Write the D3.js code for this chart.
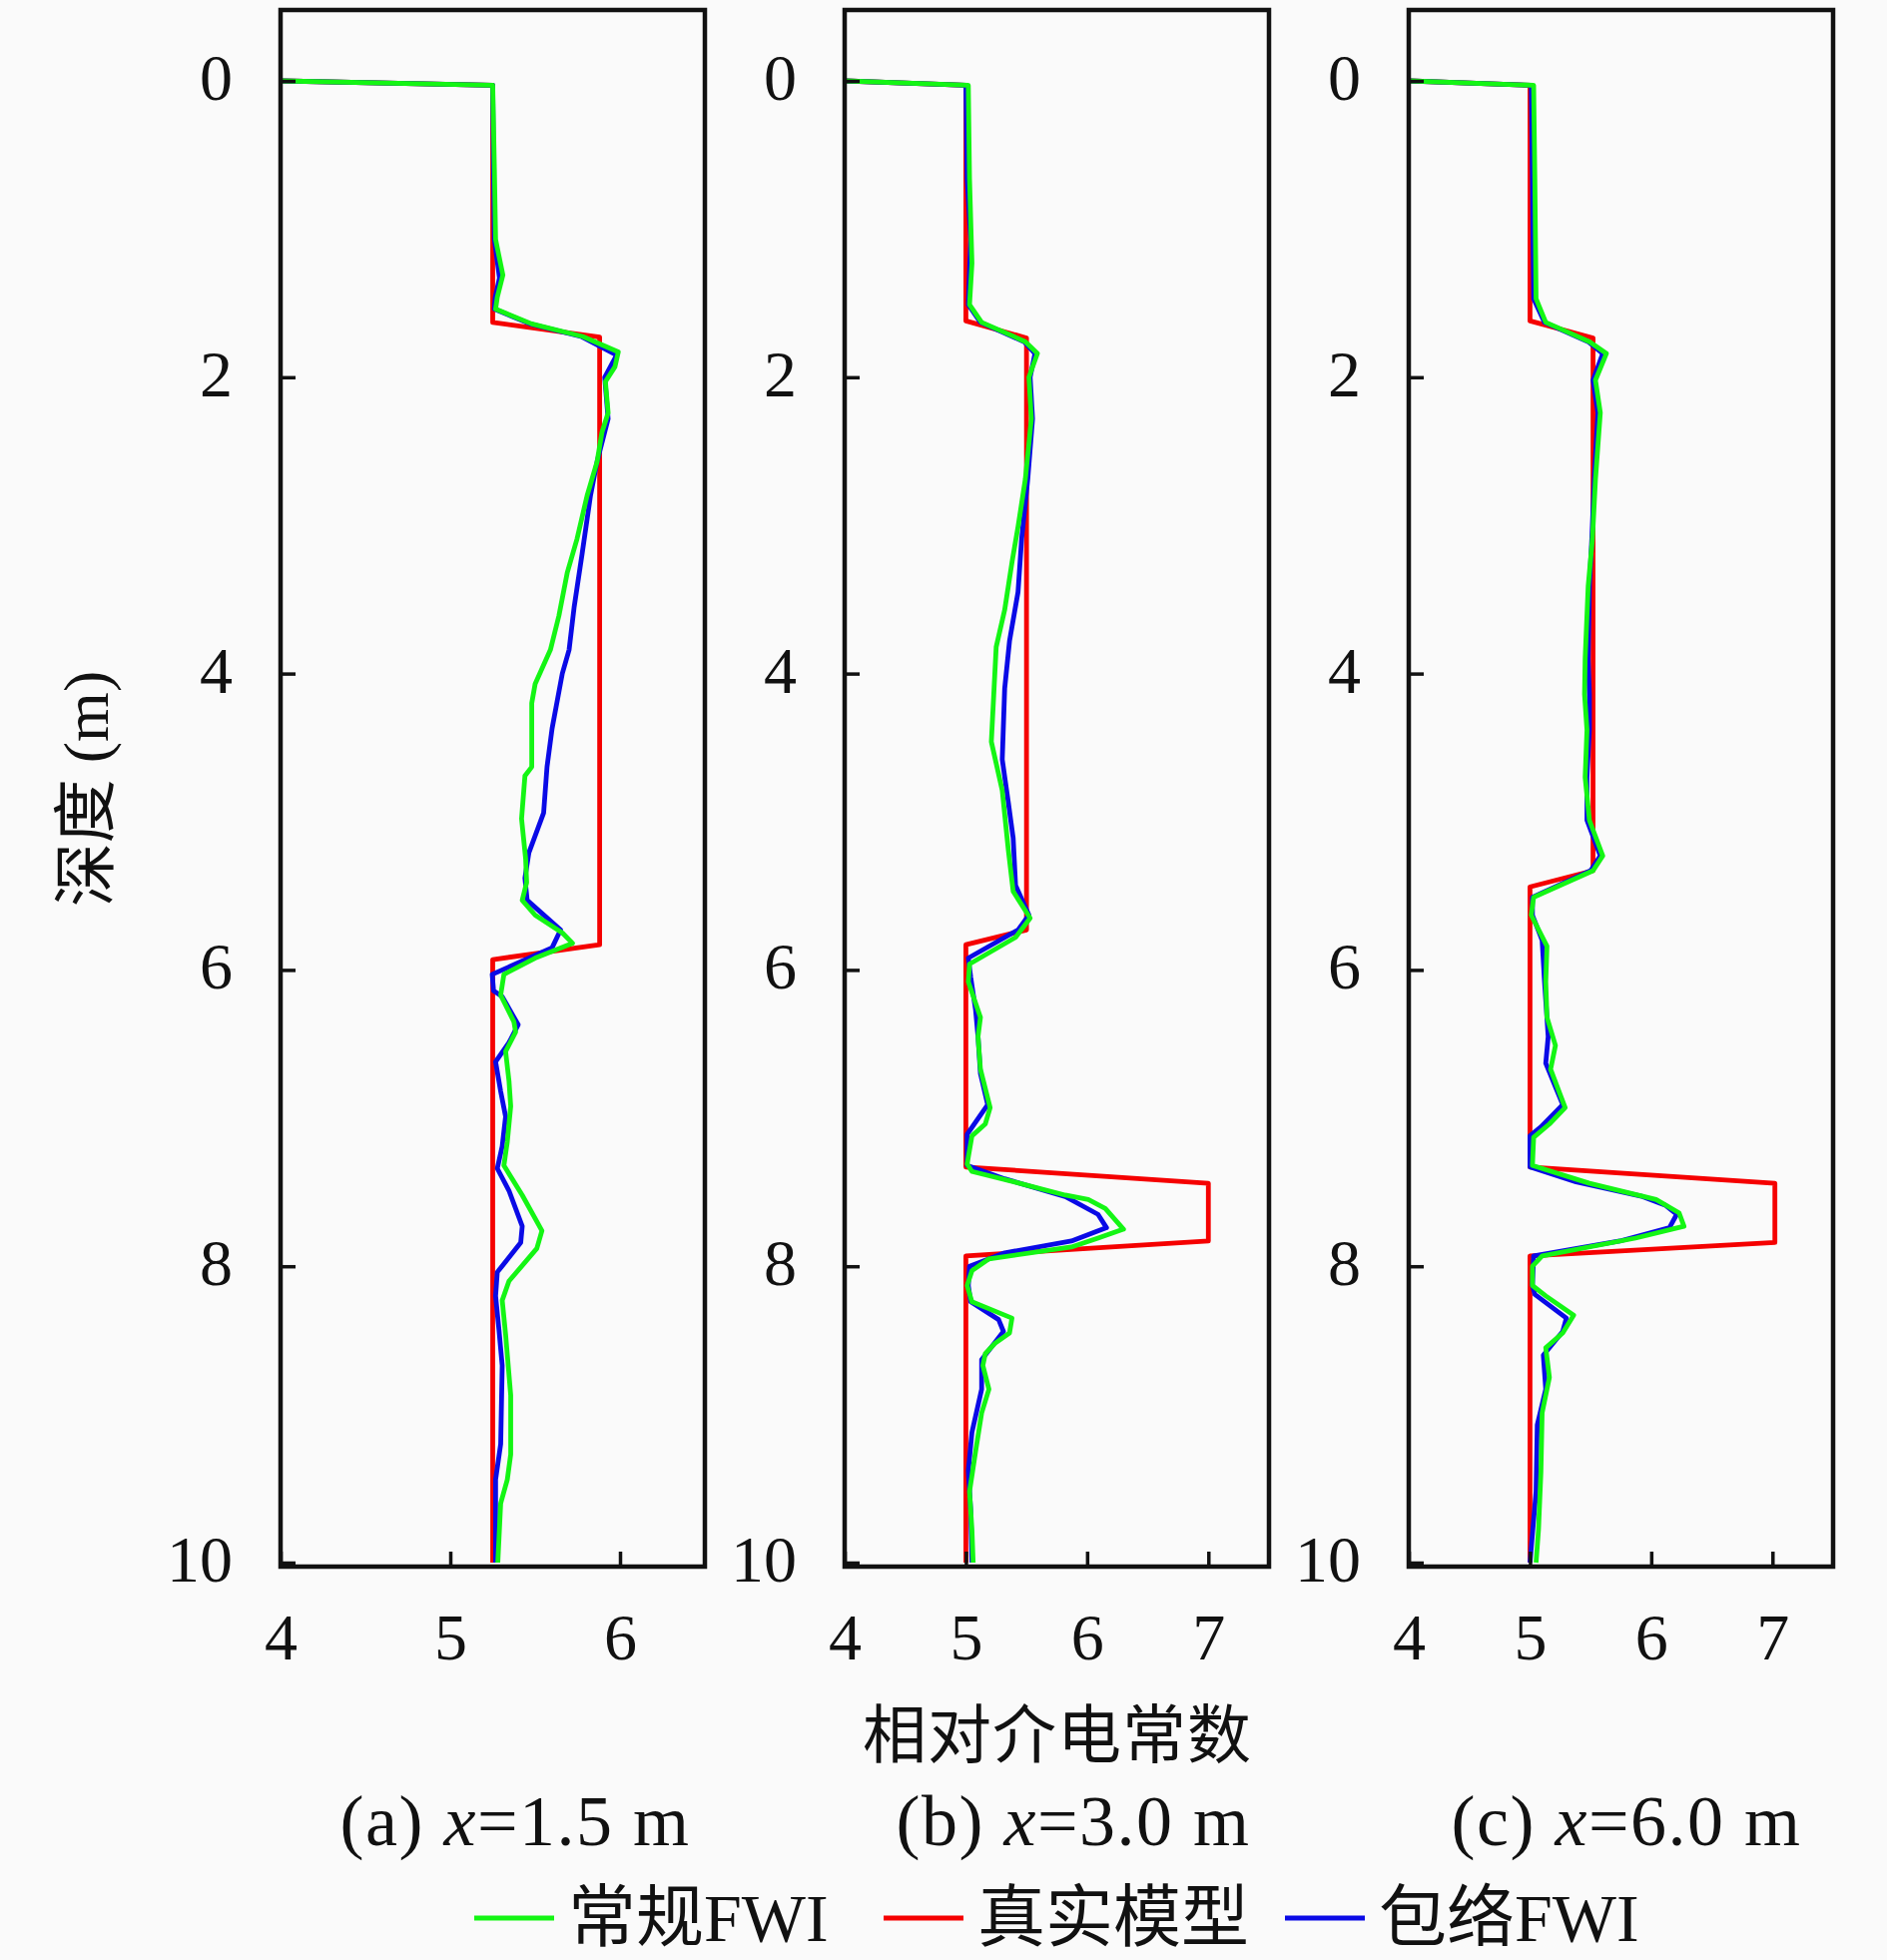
<!DOCTYPE html>
<html lang="zh">
<head>
<meta charset="UTF-8">
<script src="https://d3js.org/d3.v7.min.js"></script>
<style>
    body { margin: 0; background: #fafafa; }
    svg { display: block; }
    .tick text { font-family: "Liberation Serif", serif; fill: #111; }
</style>
</head>
<body>
<div id="chart"></div>
<script>
// depth (m), relative permittivity
const trueA = [[0,4.0],[0.03,5.25],[1.63,5.25],[1.73,5.88],[5.83,5.88],[5.93,5.25],[10,5.25]];
const convA = [[0,4.0],[0.03,5.25],[0.6,5.26],[1.07,5.267],[1.2,5.29],[1.31,5.31],[1.46,5.277],[1.54,5.267],[1.64,5.48],[1.725,5.78],[1.83,5.99],[1.93,5.97],[2.03,5.914],[2.24,5.93],[2.37,5.894],[2.57,5.865],[2.8,5.806],[3.09,5.747],[3.32,5.689],[3.61,5.64],[3.84,5.59],[4.07,5.5],[4.2,5.48],[4.63,5.48],[4.69,5.44],[4.98,5.42],[5.25,5.444],[5.41,5.45],[5.53,5.424],[5.63,5.5],[5.75,5.66],[5.82,5.72],[5.92,5.5],[6.03,5.316],[6.17,5.297],[6.35,5.375],[6.42,5.385],[6.55,5.326],[6.75,5.346],[6.92,5.356],[7.16,5.336],[7.32,5.316],[7.52,5.424],[7.76,5.54],[7.88,5.51],[8.1,5.346],[8.23,5.306],[8.46,5.326],[8.87,5.356],[9.27,5.356],[9.44,5.336],[9.6,5.297],[10,5.28]];
const envA = [[0,4.0],[0.03,5.25],[0.6,5.255],[1.07,5.26],[1.2,5.275],[1.33,5.29],[1.46,5.265],[1.54,5.26],[1.64,5.47],[1.725,5.77],[1.85,5.98],[2.0,5.91],[2.28,5.93],[2.57,5.865],[2.8,5.826],[3.19,5.777],[3.55,5.73],[3.84,5.7],[4.0,5.66],[4.37,5.6],[4.63,5.57],[4.94,5.55],[5.21,5.463],[5.38,5.44],[5.53,5.453],[5.73,5.65],[5.85,5.6],[6.03,5.247],[6.14,5.255],[6.18,5.306],[6.37,5.4],[6.49,5.346],[6.62,5.267],[6.82,5.297],[6.99,5.326],[7.19,5.306],[7.34,5.277],[7.49,5.346],[7.73,5.424],[7.84,5.415],[8.04,5.277],[8.2,5.267],[8.43,5.287],[8.67,5.306],[9.2,5.297],[9.44,5.267],[10,5.267]];

const trueB = [[0,4.0],[0.03,5.0],[1.62,5.0],[1.735,5.5],[5.73,5.5],[5.83,5.0],[7.33,5.0],[7.44,7.0],[7.83,7.0],[7.93,5.0],[10,5.0]];
const convB = [[0,4.0],[0.03,5.02],[0.66,5.03],[1.23,5.05],[1.51,5.03],[1.63,5.13],[1.76,5.49],[1.84,5.59],[2.0,5.52],[2.28,5.54],[2.69,5.49],[3.01,5.43],[3.25,5.38],[3.57,5.32],[3.82,5.25],[4.14,5.23],[4.46,5.21],[4.79,5.3],[5.19,5.35],[5.47,5.39],[5.65,5.53],[5.78,5.41],[5.96,5.03],[6.08,5.02],[6.32,5.12],[6.45,5.1],[6.67,5.12],[6.93,5.2],[7.04,5.16],[7.12,5.05],[7.31,5.01],[7.36,5.05],[7.45,5.49],[7.52,5.82],[7.55,6.01],[7.61,6.15],[7.75,6.3],[7.81,6.09],[7.87,5.87],[7.95,5.19],[8.03,5.05],[8.13,5.01],[8.24,5.05],[8.35,5.38],[8.45,5.36],[8.52,5.24],[8.59,5.16],[8.67,5.14],[8.83,5.19],[8.99,5.13],[9.25,5.08],[9.52,5.03],[9.78,5.05],[10,5.06]];
const envB = [[0,4.0],[0.03,5.0],[0.66,5.01],[1.07,5.04],[1.51,5.02],[1.63,5.12],[1.76,5.48],[1.84,5.57],[2.0,5.53],[2.28,5.55],[2.69,5.51],[3.09,5.46],[3.45,5.43],[3.78,5.36],[4.1,5.32],[4.58,5.3],[4.87,5.35],[5.11,5.39],[5.43,5.41],[5.63,5.52],[5.73,5.43],[5.92,5.02],[6.05,5.04],[6.27,5.08],[6.45,5.1],[6.7,5.12],[6.91,5.18],[7.11,5.01],[7.32,5.01],[7.41,5.32],[7.53,5.82],[7.65,6.09],[7.74,6.16],[7.83,5.87],[7.91,5.32],[8.0,5.03],[8.13,5.02],[8.24,5.04],[8.36,5.27],[8.44,5.31],[8.63,5.13],[8.83,5.13],[9.12,5.05],[9.38,5.02],[9.65,5.04],[10,5.05]];

const trueC = [[0,4.0],[0.03,5.0],[1.62,5.0],[1.735,5.52],[5.33,5.52],[5.44,5.0],[7.33,5.0],[7.44,7.02],[7.84,7.02],[7.93,5.0],[10,5.0]];
const convC = [[0,4.0],[0.03,5.03],[0.66,5.04],[1.47,5.05],[1.63,5.13],[1.76,5.49],[1.84,5.63],[2.02,5.54],[2.24,5.58],[2.69,5.54],[3.09,5.515],[3.41,5.48],[3.9,5.455],[4.14,5.45],[4.38,5.47],[4.7,5.455],[4.99,5.49],[5.23,5.6],[5.33,5.52],[5.51,5.03],[5.63,5.01],[5.84,5.14],[6.08,5.13],[6.32,5.14],[6.51,5.21],[6.67,5.17],[6.93,5.29],[7.04,5.16],[7.13,5.03],[7.32,5.02],[7.44,5.49],[7.55,6.04],[7.64,6.23],[7.73,6.27],[7.81,5.87],[7.93,5.1],[8.0,5.02],[8.13,5.02],[8.2,5.13],[8.33,5.36],[8.45,5.27],[8.55,5.13],[8.75,5.16],[8.99,5.1],[9.39,5.09],[9.78,5.07],[10,5.05]];
const envC = [[0,4.0],[0.03,5.01],[0.66,5.02],[1.47,5.03],[1.63,5.12],[1.76,5.48],[1.84,5.6],[2.02,5.52],[2.24,5.56],[2.69,5.53],[3.09,5.51],[3.41,5.49],[3.9,5.48],[4.14,5.49],[4.38,5.49],[4.7,5.47],[4.99,5.47],[5.23,5.58],[5.33,5.5],[5.51,5.02],[5.63,5.02],[5.8,5.1],[6.08,5.12],[6.45,5.15],[6.63,5.13],[6.91,5.27],[7.06,5.09],[7.12,5.0],[7.33,5.0],[7.43,5.38],[7.53,5.93],[7.59,6.12],[7.65,6.21],[7.74,6.15],[7.83,5.74],[7.93,5.03],[8.13,5.02],[8.19,5.04],[8.35,5.3],[8.44,5.27],[8.6,5.11],[8.83,5.13],[9.07,5.06],[9.52,5.05],[10,5.0]];

const depthTicks = [0, 2, 4, 6, 8, 10];
const xTicksA = [4, 5, 6];
const xTicksBC = [4, 5, 6, 7];
const captions = [["(a) ", "x", "=1.5 m"], ["(b) ", "x", "=3.0 m"], ["(c) ", "x", "=6.0 m"]];
const legendNames = ["常规FWI", "真实模型", "包络FWI"];

const W = 1890, H = 1963;
const colors = { conv: "#14f514", true: "#f50000", env: "#0a0ae6" };
const plotTop = 10, plotBottom = 1569;

const panels = [
    { left: 281, right: 706, xmax: 6.5, ticks: xTicksA, tr: trueA, cv: convA, en: envA, cap: captions[0], capX: 516 },
    { left: 846, right: 1271, xmax: 7.5, ticks: xTicksBC, tr: trueB, cv: convB, en: envB, cap: captions[1], capX: 1075 },
    { left: 1411, right: 1836, xmax: 7.5, ticks: xTicksBC, tr: trueC, cv: convC, en: envC, cap: captions[2], capX: 1629 }
];

const svg = d3.select("#chart").append("svg")
    .attr("width", W).attr("height", H);

svg.append("rect").attr("width", W).attr("height", H).attr("fill", "#fafafa");

const y = d3.scaleLinear().domain([0, 10]).range([81, 1565]);

panels.forEach((p, i) => {
    const x = d3.scaleLinear().domain([4, p.xmax]).range([p.left, p.right]);
    const g = svg.append("g");

    const clipId = "clip" + i;
    svg.append("clipPath").attr("id", clipId)
        .append("rect")
        .attr("x", p.left).attr("y", plotTop)
        .attr("width", p.right - p.left).attr("height", plotBottom - plotTop);

    const line = d3.line()
        .x(d => x(d[1]))
        .y(d => y(d[0]));

    [["true", p.tr], ["env", p.en], ["conv", p.cv]].forEach(([k, data]) => {
        g.append("path")
            .datum(data)
            .attr("clip-path", `url(#${clipId})`)
            .attr("fill", "none")
            .attr("stroke", colors[k])
            .attr("stroke-width", 4.8)
            .attr("stroke-linejoin", "round")
            .attr("d", line);
    });

    // axes
    const ya = g.append("g")
        .attr("transform", `translate(${p.left},0)`)
        .call(d3.axisLeft(y).tickValues(depthTicks).tickFormat(d3.format("d"))
            .tickSize(-15).tickSizeOuter(0).tickPadding(48));
    ya.select(".domain").remove();
    ya.selectAll(".tick line").attr("stroke", "#111").attr("stroke-width", 3.5);
    ya.selectAll(".tick text").style("font-size", "66px").attr("dy", "0.28em");

    const xa = g.append("g")
        .attr("transform", `translate(0,${plotBottom})`)
        .call(d3.axisBottom(x).tickValues(p.ticks).tickFormat(d3.format("d"))
            .tickSize(-15).tickSizeOuter(0).tickPadding(46));
    xa.select(".domain").remove();
    xa.selectAll(".tick line").attr("stroke", "#111").attr("stroke-width", 3.5);
    xa.selectAll(".tick text").style("font-size", "66px");

    g.append("rect")
        .attr("x", p.left).attr("y", plotTop)
        .attr("width", p.right - p.left).attr("height", plotBottom - plotTop)
        .attr("fill", "none")
        .attr("stroke", "#111")
        .attr("stroke-width", 4.5);

    const cap = svg.append("text")
        .attr("x", p.capX).attr("y", 1848)
        .attr("text-anchor", "middle")
        .style("font-family", "Liberation Serif, serif")
        .style("font-size", "72px")
        .style("letter-spacing", "1.5px")
        .attr("fill", "#111");
    cap.append("tspan").text(p.cap[0]);
    cap.append("tspan").style("font-style", "italic").text(p.cap[1]);
    cap.append("tspan").text(p.cap[2]);
});

// axis titles
svg.append("text")
    .attr("transform", "translate(108,790) rotate(-90)")
    .attr("text-anchor", "middle")
    .style("font-family", "Liberation Serif, Noto Sans CJK SC")
    .style("font-size", "64px")
    .attr("fill", "#111")
    .text("深度 (m)");

svg.append("text")
    .attr("x", 1059).attr("y", 1760)
    .attr("text-anchor", "middle")
    .style("font-family", "Noto Sans CJK SC")
    .style("font-size", "64px")
    .style("letter-spacing", "1px")
    .attr("fill", "#111")
    .text("相对介电常数");

// legend
const legendKeys = ["conv", "true", "env"];
const legendX = [475, 885, 1287];
legendNames.forEach((name, i) => {
    const lg = svg.append("g").attr("transform", `translate(${legendX[i]},1921)`);
    lg.append("line")
        .attr("x1", 0).attr("x2", 80)
        .attr("stroke", colors[legendKeys[i]])
        .attr("stroke-width", 4.8);
    lg.append("text")
        .attr("x", 94).attr("y", 23)
        .style("font-family", "Liberation Serif, Noto Sans CJK SC")
        .style("font-size", "68px")
        .attr("fill", "#111")
        .text(name);
});
</script>
</body>
</html>
